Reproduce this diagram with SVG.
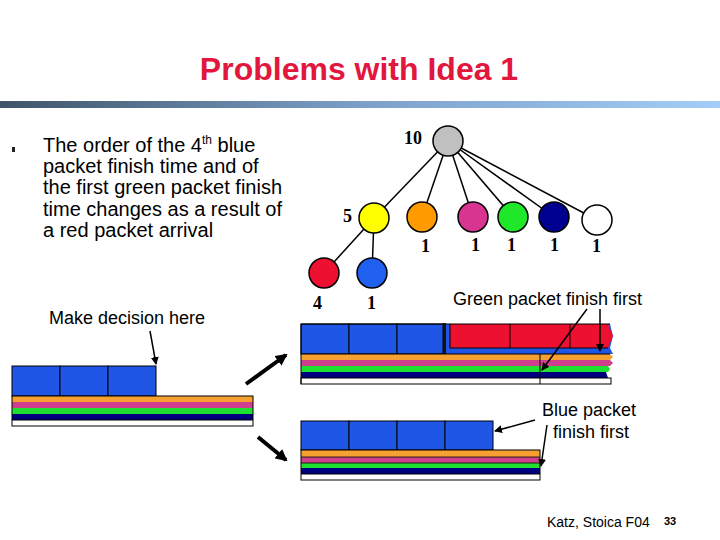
<svg xmlns="http://www.w3.org/2000/svg" width="720" height="540" viewBox="0 0 720 540">
<defs>
<linearGradient id="bar" x1="0" y1="0" x2="1" y2="0">
<stop offset="0" stop-color="#3f5468"/>
<stop offset="0.5" stop-color="#7c9fc8"/>
<stop offset="1" stop-color="#a3cdf8"/>
</linearGradient>
<marker id="ah" markerWidth="8" markerHeight="8" refX="7" refY="4" orient="auto" markerUnits="userSpaceOnUse">
<path d="M0,0 L8,4 L0,8 z" fill="#000"/>
</marker>
<marker id="ahb" markerWidth="12" markerHeight="12" refX="10" refY="6" orient="auto" markerUnits="userSpaceOnUse">
<path d="M0,0 L12,6 L0,12 z" fill="#000"/>
</marker>
</defs>
<style>
.t{font-family:"Liberation Sans",Arial,sans-serif;fill:#000}
.n{font-family:"Liberation Serif","Times New Roman",serif;font-weight:bold;font-size:18px;fill:#000}
.c{stroke:#000;stroke-width:1.5}
.e{stroke:#000;stroke-width:1.5;fill:none}
.cell{fill:#1f56e6;stroke:#000;stroke-width:1}
.thin{stroke:#000;stroke-width:1.5;fill:none}
.thick{stroke:#000;stroke-width:4;fill:none}
</style>
<rect width="720" height="540" fill="#fff"/>
<text x="359" y="80" text-anchor="middle" style="font-family:'Liberation Sans',Arial,sans-serif;font-weight:bold;font-size:32px;fill:#e2173d">Problems with Idea 1</text>
<rect x="0" y="101" width="720" height="7" fill="url(#bar)"/>

<g id="bullet">
<rect x="12" y="147" width="3" height="5" fill="#222"/>
<text class="t" font-size="20" x="43" y="152">The order of the 4<tspan font-size="12" dy="-8">th</tspan><tspan dy="8"> blue</tspan></text>
<text class="t" font-size="20" x="43" y="173">packet finish time and of</text>
<text class="t" font-size="20" x="43" y="194">the first green packet finish</text>
<text class="t" font-size="20" x="43" y="215.5">time changes as a result of</text>
<text class="t" font-size="20" x="43" y="236.5">a red packet arrival</text>
</g>
<text class="t" font-size="18" x="49" y="324">Make decision here</text>

<g id="connectors">
<line class="e" x1="448" y1="141" x2="374" y2="218"/>
<line class="e" x1="448" y1="141" x2="422" y2="217"/>
<line class="e" x1="448" y1="141" x2="473" y2="217"/>
<line class="e" x1="448" y1="141" x2="513" y2="217"/>
<line class="e" x1="448" y1="141" x2="554" y2="217"/>
<line class="e" x1="448" y1="141" x2="597" y2="220"/>
<line class="e" x1="374" y1="218" x2="324" y2="273"/>
<line class="e" x1="374" y1="218" x2="372" y2="273"/>
</g>

<g id="n10"><circle class="c" cx="448" cy="141" r="15" fill="#c0c0c0"/><text class="n" x="404" y="144">10</text></g>
<g id="n5"><circle class="c" cx="374" cy="218" r="15" fill="#ffff00"/><text class="n" x="343" y="222">5</text></g>
<g id="norange"><circle class="c" cx="422" cy="217" r="15" fill="#ff9a00"/><text class="n" x="421" y="252">1</text></g>
<g id="nmagenta"><circle class="c" cx="473" cy="217" r="15" fill="#d83590"/><text class="n" x="471" y="251">1</text></g>
<g id="ngreen"><circle class="c" cx="513" cy="217" r="15" fill="#1fe82a"/><text class="n" x="507" y="251">1</text></g>
<g id="nnavy"><circle class="c" cx="554" cy="217" r="15" fill="#000090"/><text class="n" x="550" y="251">1</text></g>
<g id="nwhite"><circle class="c" cx="597" cy="220" r="15" fill="#ffffff"/><text class="n" x="592" y="252">1</text></g>
<g id="nred"><circle class="c" cx="324" cy="273" r="15" fill="#ee1030"/><text class="n" x="313" y="309">4</text></g>
<g id="nblue"><circle class="c" cx="372" cy="273" r="15" fill="#2060ee"/><text class="n" x="367" y="309">1</text></g>

<text class="t" font-size="18" x="453" y="305">Green packet finish first</text>

<g id="queue-left">
<rect class="cell" x="12" y="366" width="48" height="30"/>
<rect class="cell" x="60" y="366" width="48" height="30"/>
<rect class="cell" x="108" y="366" width="48" height="30"/>
<rect x="12" y="396" width="241" height="6" fill="#f5a031"/>
<rect x="12" y="402" width="241" height="6" fill="#cf3f8e"/>
<rect x="12" y="408" width="241" height="6" fill="#1fe030"/>
<rect x="12" y="414" width="241" height="6" fill="#00007e"/>
<rect x="12" y="396" width="241" height="30" fill="none" stroke="#000" stroke-width="1"/>
<line x1="12" y1="420" x2="253" y2="420" stroke="#000" stroke-width="1"/>
<line class="thin" x1="150" y1="331" x2="156" y2="364" marker-end="url(#ah)"/>
</g>

<g id="arrows-split">
<line class="thick" x1="246" y1="384" x2="286" y2="355" marker-end="url(#ahb)"/>
<line class="thick" x1="258" y1="437" x2="286" y2="460" marker-end="url(#ahb)"/>
</g>

<g id="queue-top">
<rect class="cell" x="301" y="324" width="48" height="30"/>
<rect class="cell" x="349" y="324" width="48" height="30"/>
<rect class="cell" x="397" y="324" width="46" height="30"/>
<path d="M446,324 L610,324 L613,336 L610,348 L613,354 L446,354 z" fill="#1f56e6"/>
<path d="M450,324 L608,324 L613,336 L608,348 L450,348 z" fill="#ee1030"/>
<line x1="510" y1="324" x2="510" y2="348" stroke="#000" stroke-width="1"/>
<line x1="570" y1="324" x2="570" y2="348" stroke="#000" stroke-width="1"/>
<line x1="450" y1="324" x2="450" y2="348" stroke="#000" stroke-width="1"/>
<line x1="450" y1="348" x2="608" y2="348" stroke="#000" stroke-width="1"/>
<line x1="301" y1="324" x2="610" y2="324" stroke="#000" stroke-width="1"/>
<rect x="443" y="323" width="3" height="31" fill="#111"/>
<path d="M301,354 L610,354 L613,357 L610,360 L301,360 z" fill="#f5a031"/>
<path d="M301,360 L610,360 L613,363 L610,366 L301,366 z" fill="#cf3f8e"/>
<path d="M301,366 L608,366 L610,369 L608,372 L301,372 z" fill="#1fe030"/>
<path d="M301,372 L606,372 L608,378 L301,378 z" fill="#00007e"/>
<rect x="301" y="378" width="310" height="6" fill="#fff" stroke="#000" stroke-width="1"/>
<line x1="301" y1="354" x2="610" y2="354" stroke="#000" stroke-width="1"/>
<line x1="301" y1="324" x2="301" y2="384" stroke="#000" stroke-width="1"/>
<line x1="540" y1="354" x2="540" y2="384" stroke="#000" stroke-width="1"/>
<line class="thin" x1="587" y1="309" x2="542" y2="370" marker-end="url(#ah)"/>
<line class="thin" x1="600" y1="309" x2="600" y2="351" marker-end="url(#ah)"/>
</g>

<g id="queue-bottom">
<rect class="cell" x="301" y="421" width="48" height="29"/>
<rect class="cell" x="349" y="421" width="48" height="29"/>
<rect class="cell" x="397" y="421" width="48" height="29"/>
<rect class="cell" x="445" y="421" width="48" height="29"/>
<rect x="301" y="450" width="239" height="7" fill="#f5a031"/>
<rect x="301" y="457" width="239" height="6" fill="#cf3f8e"/>
<rect x="301" y="463" width="239" height="5" fill="#1fe030"/>
<rect x="301" y="468" width="239" height="6" fill="#00007e"/>
<rect x="301" y="450" width="239" height="30" fill="none" stroke="#000" stroke-width="1"/>
<line x1="301" y1="457" x2="540" y2="457" stroke="#000" stroke-width="0.8"/>
<line x1="301" y1="463" x2="540" y2="463" stroke="#000" stroke-width="0.8"/>
<line x1="301" y1="474" x2="540" y2="474" stroke="#000" stroke-width="1"/>
<line class="thin" x1="535" y1="420" x2="495" y2="431" marker-end="url(#ah)"/>
<line class="thin" x1="547" y1="425" x2="541" y2="466" marker-end="url(#ah)"/>
</g>
<text class="t" font-size="18" x="542" y="416">Blue packet</text>
<text class="t" font-size="18" x="553" y="438">finish first</text>

<text class="t" font-size="14" x="547" y="527">Katz, Stoica F04</text>
<text x="664" y="525" style="font-family:'Liberation Sans',Arial,sans-serif;font-weight:bold;font-size:11px;fill:#000">33</text>
</svg>
